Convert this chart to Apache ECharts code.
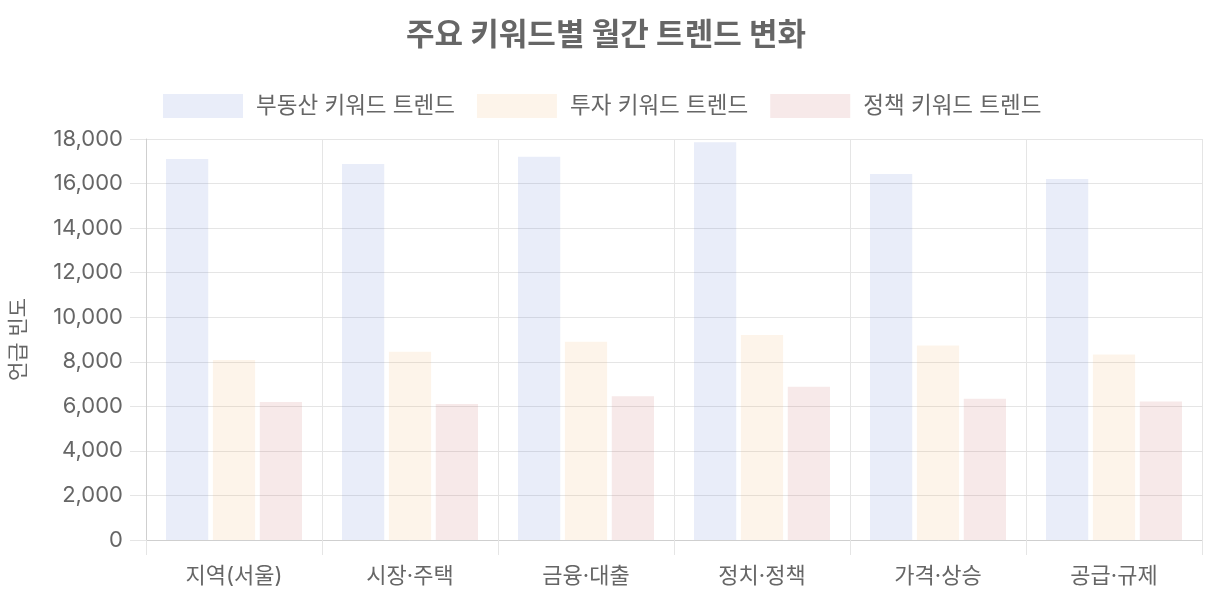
<!DOCTYPE html>
<html>
<head>
<meta charset="utf-8">
<script src="https://cdn.jsdelivr.net/npm/echarts@6/dist/echarts.min.js"></script>
<style>
html,body{margin:0;padding:0;background:#fff;}
#chart{width:1222px;height:610px;}
</style>
</head>
<body>
<div id="chart"></div>
<script>
const categories = ['지역(서울)', '시장·주택', '금융·대출', '정치·정책', '가격·상승', '공급·규제'];
const realEstate = [17100, 16880, 17200, 17850, 16430, 16200];
const investment = [8080, 8450, 8900, 9200, 8730, 8330];
const policy = [6200, 6100, 6450, 6880, 6340, 6220];
const seriesNames = ['부동산 키워드 트렌드', '투자 키워드 트렌드', '정책 키워드 트렌드'];
const yTicks = {min: 0, max: 18000, interval: 2000};

const FONT = 'Inter, "Noto Sans CJK KR", sans-serif';
const colors = ['rgba(72,105,205,0.12)', 'rgba(238,163,80,0.12)', 'rgba(190,70,70,0.12)'];
const gridColor = '#e5e5e5';
const axisColor = '#cfcfcf';

const chart = echarts.init(document.getElementById('chart'));
const mkSeries = (name, data, i) => ({
  name: name,
  type: 'bar',
  data: data,
  barWidth: '24%',
  barGap: '11%',
  itemStyle: {color: colors[i]},
  emphasis: {disabled: true}
});
chart.setOption({
  animation: false,
  textStyle: {fontFamily: FONT},
  title: {
    text: '주요 키워드별 월간 트렌드 변화',
    left: 601,
    textAlign: 'center',
    top: 15,
    textStyle: {fontSize: 31, fontWeight: 'bold', color: '#666', fontFamily: FONT}
  },
  legend: {
    top: 89,
    left: 158,
    itemWidth: 80,
    itemHeight: 24,
    itemGap: 22,
    icon: 'rect',
    data: seriesNames,
    formatter: '{a|{name}}',
    textStyle: {
      fontSize: 22.5, color: '#666', fontFamily: FONT,
      rich: {a: {fontSize: 22.5, color: '#666', fontFamily: FONT, padding: [0, 0, 0, 8]}}
    }
  },
  grid: {left: 146, right: 20, top: 139, bottom: 70, containLabel: false, outerBoundsMode: 'none'},
  xAxis: {
    type: 'category',
    data: categories,
    boundaryGap: true,
    axisLine: {show: true, lineStyle: {color: axisColor, width: 1}},
    axisTick: {show: true, length: 15, interval: 0, lineStyle: {color: gridColor}},
    splitLine: {show: true, interval: 0, lineStyle: {color: gridColor, width: 1}},
    axisLabel: {fontSize: 22, color: '#666', margin: 25, fontFamily: FONT, interval: 0}
  },
  yAxis: {
    type: 'value',
    min: yTicks.min,
    max: yTicks.max,
    interval: yTicks.interval,
    name: '언급 빈도',
    nameLocation: 'middle',
    nameRotate: 90,
    nameGap: 117,
    nameTextStyle: {fontSize: 21, color: '#666', fontFamily: FONT},
    axisLine: {show: true, lineStyle: {color: axisColor, width: 1}},
    axisTick: {show: true, length: 16, lineStyle: {color: gridColor}},
    splitLine: {show: true, lineStyle: {color: gridColor, width: 1}},
    axisLabel: {
      fontSize: 22, color: '#666', margin: 23, fontFamily: FONT,
      formatter: v => v.toLocaleString('en-US')
    }
  },
  series: [
    mkSeries(seriesNames[0], realEstate, 0),
    mkSeries(seriesNames[1], investment, 1),
    mkSeries(seriesNames[2], policy, 2)
  ]
});
</script>
</body>
</html>
